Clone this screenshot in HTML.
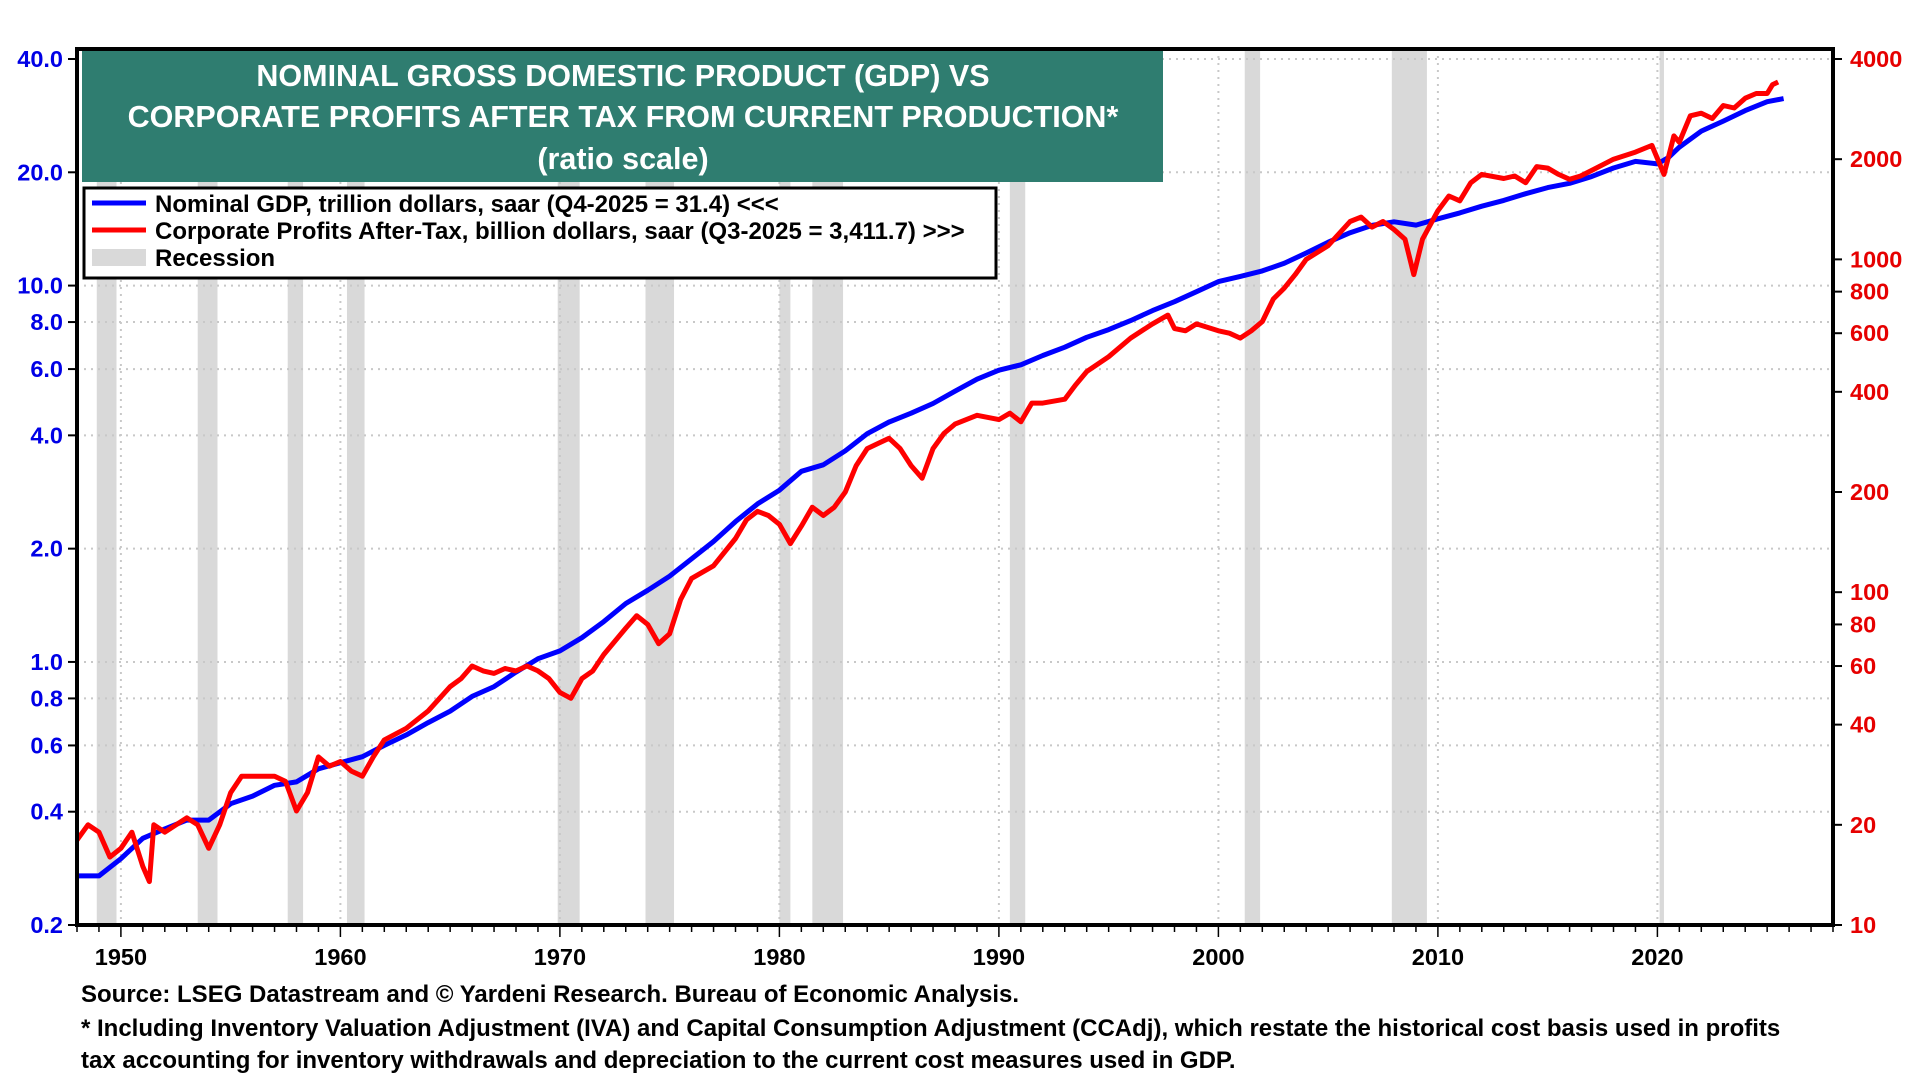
<!DOCTYPE html>
<html><head><meta charset="utf-8"><style>
html,body{margin:0;padding:0;background:#fff;}
svg text{font-family:"Liberation Sans",Arial,sans-serif;font-weight:bold;}
</style></head><body>
<svg id="chart" width="1920" height="1080" viewBox="0 0 1920 1080" xmlns="http://www.w3.org/2000/svg">
<g id="bg"></g>
<g id="grid"></g>
<g id="series"></g>
<g id="axes"></g>
<rect x="82" y="51" width="1081" height="131" fill="#2f7d70"/>
<text x="623" y="86" fill="#fff" font-size="30.5" text-anchor="middle">NOMINAL GROSS DOMESTIC PRODUCT (GDP) VS</text>
<text x="623" y="127" fill="#fff" font-size="30.5" text-anchor="middle">CORPORATE PROFITS AFTER TAX FROM CURRENT PRODUCTION*</text>
<text x="623" y="169" fill="#fff" font-size="30.5" text-anchor="middle">(ratio scale)</text>
<g>
<rect x="84" y="188" width="912" height="90" fill="#fff" stroke="#000" stroke-width="3"/>
<line x1="92" y1="203" x2="146" y2="203" stroke="#0000ff" stroke-width="5"/>
<text x="155" y="212" font-size="24">Nominal GDP, trillion dollars, saar (Q4-2025 = 31.4) &lt;&lt;&lt;</text>
<line x1="92" y1="230" x2="146" y2="230" stroke="#ff0000" stroke-width="5"/>
<text x="155" y="239" font-size="24">Corporate Profits After-Tax, billion dollars, saar (Q3-2025 = 3,411.7) &gt;&gt;&gt;</text>
<rect x="92" y="249" width="54" height="17" fill="#d9d9d9"/>
<text x="155" y="266" font-size="24">Recession</text>
</g>
<text x="81" y="1002" font-size="24">Source: LSEG Datastream and © Yardeni Research. Bureau of Economic Analysis.</text>
<text x="81" y="1036" font-size="24">* Including Inventory Valuation Adjustment (IVA) and Capital Consumption Adjustment (CCAdj), which restate the historical cost basis used in profits</text>
<text x="81" y="1068" font-size="24">tax accounting for inventory withdrawals and depreciation to the current cost measures used in GDP.</text>
</svg>
<script>
const recStart=[1948.9,1953.5,1957.6,1960.3,1969.9,1973.9,1980.0,1981.5,1990.5,2001.2,2007.9,2020.1];
const recEnd=[1949.8,1954.4,1958.3,1961.1,1970.9,1975.2,1980.5,1982.9,1991.2,2001.9,2009.5,2020.3];
const gdpYears=[1948,1949,1950,1951,1952,1953,1954,1955,1956,1957,1958,1959,1960,1961,1962,1963,1964,1965,1966,1967,1968,1969,1970,1971,1972,1973,1974,1975,1976,1977,1978,1979,1980,1981,1982,1983,1984,1985,1986,1987,1988,1989,1990,1991,1992,1993,1994,1995,1996,1997,1998,1999,2000,2001,2002,2003,2004,2005,2006,2007,2008,2009,2010,2011,2012,2013,2014,2015,2016,2017,2018,2019,2020,2020.5,2021,2022,2023,2024,2025,2025.75];
const gdpValues=[0.27,0.27,0.30,0.34,0.36,0.38,0.38,0.42,0.44,0.47,0.48,0.52,0.54,0.56,0.60,0.64,0.69,0.74,0.81,0.86,0.94,1.02,1.07,1.16,1.28,1.43,1.55,1.69,1.88,2.09,2.36,2.63,2.86,3.21,3.34,3.64,4.04,4.34,4.58,4.86,5.24,5.64,5.96,6.16,6.52,6.86,7.29,7.64,8.07,8.58,9.06,9.63,10.25,10.58,10.94,11.46,12.21,13.04,13.82,14.45,14.77,14.48,15.05,15.60,16.25,16.84,17.55,18.21,18.70,19.48,20.53,21.38,21.06,21.9,23.32,25.74,27.36,29.18,30.8,31.4];
const profitYears=[1948,1948.5,1949,1949.5,1950,1950.5,1951,1951.3,1951.5,1952,1953,1953.5,1954,1954.5,1955,1955.5,1956,1957,1957.5,1958,1958.5,1959,1959.5,1960,1960.5,1961,1961.5,1962,1963,1964,1965,1965.5,1966,1966.5,1967,1967.5,1968,1968.5,1969,1969.5,1970,1970.5,1971,1971.5,1972,1973,1973.5,1974,1974.5,1975,1975.5,1976,1977,1978,1978.5,1979,1979.5,1980,1980.5,1981,1981.5,1982,1982.5,1983,1983.5,1984,1984.5,1985,1985.5,1986,1986.5,1987,1987.5,1988,1989,1990,1990.5,1991,1991.5,1992,1993,1993.5,1994,1995,1996,1997,1997.7,1998,1998.5,1999,2000,2000.5,2001,2001.5,2002,2002.5,2003,2003.5,2004,2005,2006,2006.5,2007,2007.5,2008,2008.5,2008.9,2009.3,2010,2010.5,2011,2011.5,2012,2013,2013.5,2014,2014.5,2015,2015.5,2016,2016.5,2017,2018,2019,2019.75,2020.3,2020.75,2021,2021.5,2022,2022.5,2023,2023.5,2024,2024.5,2025,2025.25,2025.5];
const profitValues=[18,20,19,16,17,19,15,13.5,20,19,21,20,17,20,25,28,28,28,27,22,25,32,30,31,29,28,32,36,39,44,52,55,60,58,57,59,58,60,58,55,50,48,55,58,65,78,85,80,70,75,95,110,120,145,165,175,170,160,140,158,180,170,180,200,240,270,280,290,270,240,220,270,300,320,340,330,345,325,370,370,380,420,460,510,580,640,680,620,610,640,610,600,580,610,650,760,820,900,1000,1100,1300,1340,1250,1300,1230,1150,900,1150,1400,1550,1500,1700,1800,1750,1780,1700,1900,1880,1800,1740,1780,1850,2000,2100,2200,1800,2350,2250,2700,2750,2650,2900,2850,3050,3150,3150,3350,3411];
const leftTicks=[0.2,0.4,0.6,0.8,1.0,2.0,4.0,6.0,8.0,10.0,20.0,40.0];
const leftTickLabels=["0.2","0.4","0.6","0.8","1.0","2.0","4.0","6.0","8.0","10.0","20.0","40.0"];
const rightTicks=[10,20,40,60,80,100,200,400,600,800,1000,2000,4000];
const rightTickLabels=["10","20","40","60","80","100","200","400","600","800","1000","2000","4000"];
const xTicks=[1950,1960,1970,1980,1990,2000,2010,2020];

const NS="http://www.w3.org/2000/svg";
const L=77,R=1833,T=49,B=925,Y0=59;
const x=yr=>L+(yr-1948)*(R-L)/80;
const yL=v=>Y0+Math.log(40/v)/Math.log(200)*(B-Y0);
const yR=v=>Y0+Math.log(4000/v)/Math.log(400)*(B-Y0);
function mk(tag,attrs,parent){const e=document.createElementNS(NS,tag);for(const k in attrs)e.setAttribute(k,attrs[k]);document.getElementById(parent).appendChild(e);return e;}
for(let i=0;i<recStart.length;i++){
  const r=mk('rect',{x:x(recStart[i]),y:T,width:Math.max(4,x(recEnd[i])-x(recStart[i])),height:B-T,fill:'#d9d9d9'},'bg');
  
  
}
leftTicks.forEach((v,i)=>{
  const g=mk('line',{x1:L,x2:R,y1:yL(v),y2:yL(v),stroke:'#c8c8c8','stroke-width':2,'stroke-dasharray':'2 5'},'grid');
  
  
  mk('line',{x1:L-9,x2:L,y1:yL(v),y2:yL(v),stroke:'#000','stroke-width':2},'axes');
  const t=mk('text',{x:L-14,y:yL(v)+8,'font-size':23.5,fill:'#0000e6','text-anchor':'end'},'axes');
  t.textContent=leftTickLabels[i];
  
  
});
rightTicks.forEach((v,i)=>{
  mk('line',{x1:R,x2:R+9,y1:yR(v),y2:yR(v),stroke:'#000','stroke-width':2},'axes');
  const t=mk('text',{x:R+17,y:yR(v)+8,'font-size':23.5,fill:'#e60000'},'axes');
  t.textContent=rightTickLabels[i];
  
  
});
xTicks.forEach(v=>{
  const g=mk('line',{x1:x(v),x2:x(v),y1:T,y2:B,stroke:'#c8c8c8','stroke-width':2,'stroke-dasharray':'2 5'},'grid');
  
  
  const t=mk('text',{x:x(v),y:965,'font-size':23.5,fill:'#000','text-anchor':'middle'},'axes');
  t.textContent=String(v);
  
  
});
for(let yr=1948;yr<=2028;yr++){mk('line',{x1:x(yr),x2:x(yr),y1:B,y2:B+(yr%10===0?12:7),stroke:'#000','stroke-width':1.5},'axes');}
const fr=mk('rect',{x:L,y:T,width:R-L,height:B-T,fill:'none',stroke:'#000','stroke-width':4},'axes');


const gp=mk('polyline',{points:gdpYears.map((yr,i)=>x(yr).toFixed(1)+','+yL(gdpValues[i]).toFixed(1)).join(' '),fill:'none',stroke:'#0000ff','stroke-width':5,'stroke-linejoin':'round'},'series');


const pp=mk('polyline',{points:profitYears.map((yr,i)=>x(yr).toFixed(1)+','+yR(profitValues[i]).toFixed(1)).join(' '),fill:'none',stroke:'#ff0000','stroke-width':5,'stroke-linejoin':'round'},'series');


</script>
</body></html>
